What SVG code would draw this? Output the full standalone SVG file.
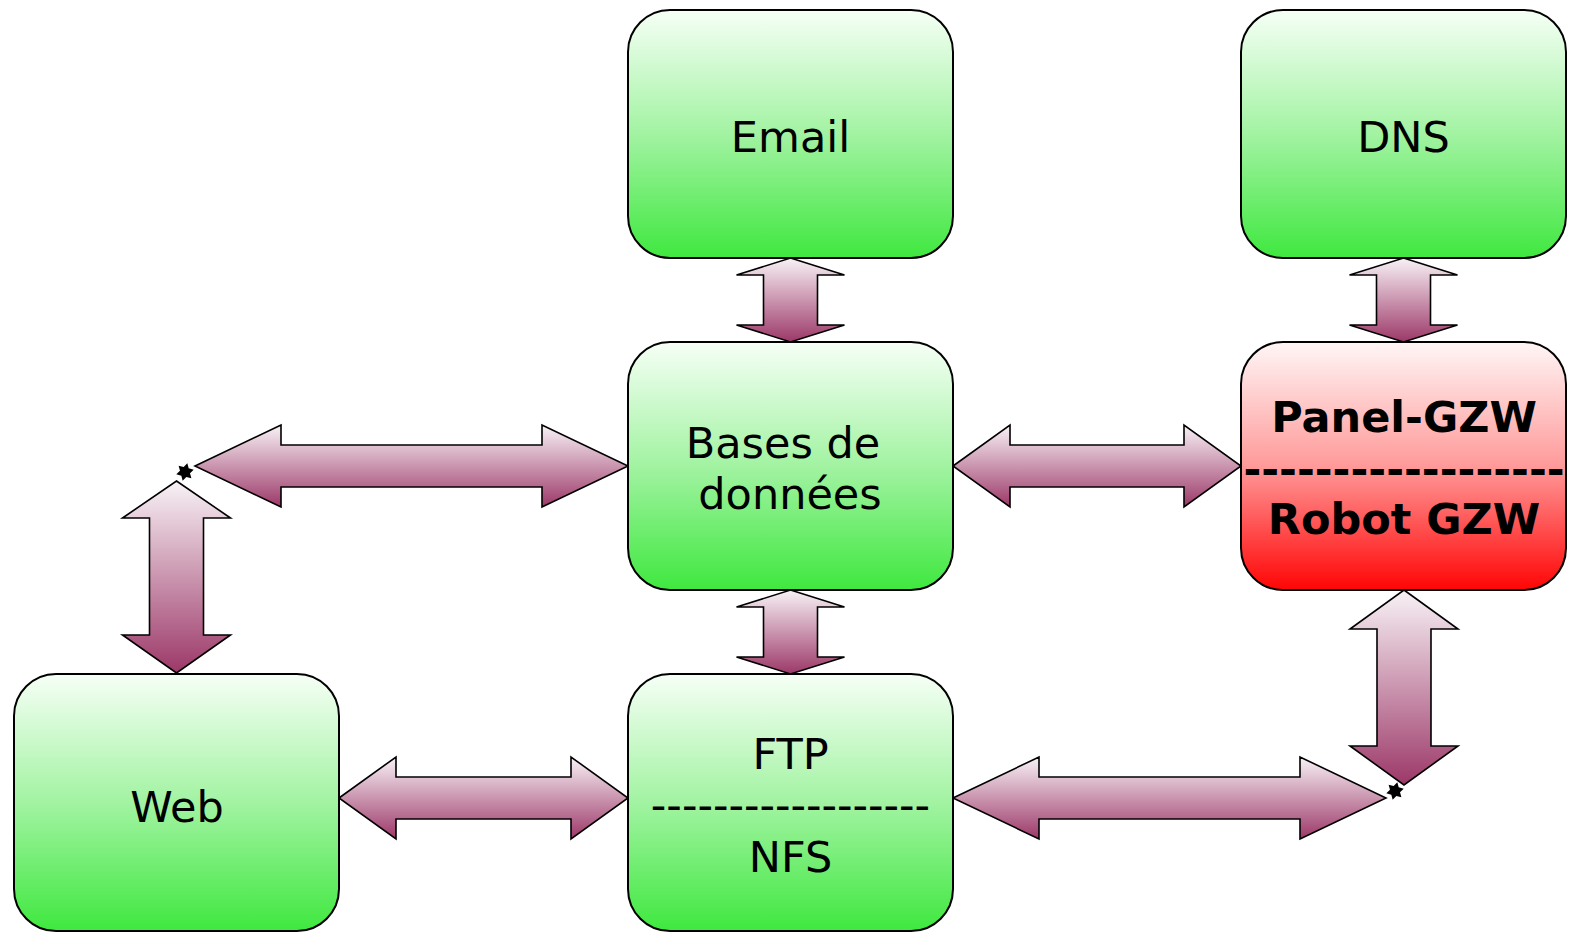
<svg xmlns="http://www.w3.org/2000/svg" xmlns:xlink="http://www.w3.org/1999/xlink" width="1575" height="933" viewBox="0 0 1575 933">
<style>
.box{stroke:#000;stroke-width:2}
.g{fill:url(#gGreen)}
.r{fill:url(#gRed)}
.arr{fill:url(#gArrow);stroke:#000;stroke-width:1.6;stroke-linejoin:miter}
.t{font-family:"DejaVu Sans","Liberation Sans",sans-serif;font-size:43px;fill:#000;text-anchor:middle}
.b{font-weight:bold}
</style>
<defs>
<linearGradient id="gGreen" x1="0" y1="0" x2="0" y2="1">
<stop offset="0" stop-color="#f6fff6"/>
<stop offset="0.5" stop-color="#a2f3a2"/>
<stop offset="1" stop-color="#3fe83f"/>
</linearGradient>
<linearGradient id="gRed" x1="0" y1="0" x2="0" y2="1">
<stop offset="0" stop-color="#fff6f6"/>
<stop offset="0.5" stop-color="#ff9a9a"/>
<stop offset="1" stop-color="#ff0505"/>
</linearGradient>
<linearGradient id="gArrow" x1="0" y1="0" x2="0" y2="1">
<stop offset="0" stop-color="#f8f2f6"/>
<stop offset="1" stop-color="#9c3868"/>
</linearGradient>
<polygon id="star" points="0,-9 2.6,-4.5 7.8,-4.5 5.2,0 7.8,4.5 2.6,4.5 0,9 -2.6,4.5 -7.8,4.5 -5.2,0 -7.8,-4.5 -2.6,-4.5" fill="#000" transform="rotate(15)"/>
</defs>

<g id="connectors">
<polygon class="arr" points="790.5,258 844.5,275 817.5,275 817.5,325 844.5,325 790.5,342 736.5,325 763.5,325 763.5,275 736.5,275"/>
<polygon class="arr" points="790.5,590 844.5,607 817.5,607 817.5,657 844.5,657 790.5,674 736.5,657 763.5,657 763.5,607 736.5,607"/>
<polygon class="arr" points="1403.5,258 1457.5,275 1430.5,275 1430.5,325 1457.5,325 1403.5,342 1349.5,325 1376.5,325 1376.5,275 1349.5,275"/>
<polygon class="arr" points="1404,590 1458,629 1431,629 1431,746 1458,746 1404,785 1350,746 1377,746 1377,629 1350,629"/>
<polygon class="arr" points="176.5,481 230.5,518 203.5,518 203.5,635 230.5,635 176.5,673 122.5,635 149.5,635 149.5,518 122.5,518"/>
<polygon class="arr" points="953,466 1010,425 1010,445 1184,445 1184,425 1241,466 1184,507 1184,487 1010,487 1010,507"/>
<polygon class="arr" points="195,466 281,425 281,445 542,445 542,425 628,466 542,507 542,487 281,487 281,507"/>
<polygon class="arr" points="339,798 396,757 396,777 571,777 571,757 628,798 571,839 571,819 396,819 396,839"/>
<polygon class="arr" points="953,798 1039,757 1039,777 1300,777 1300,757 1386,798 1300,839 1300,819 1039,819 1039,839"/>
<use xlink:href="#star" href="#star" x="185" y="472"/>
<use xlink:href="#star" href="#star" x="1395" y="791"/>
</g>

<g id="email">
<rect class="box g" x="628" y="10" width="325" height="248" rx="42" ry="42"/>
<text class="t" x="790.5" y="152">Email</text>
</g>

<g id="dns">
<rect class="box g" x="1241" y="10" width="325" height="248" rx="42" ry="42"/>
<text class="t" x="1403.5" y="152">DNS</text>
</g>

<g id="bases">
<rect class="box g" x="628" y="342" width="325" height="248" rx="42" ry="42"/>
<text class="t" x="783" y="458">Bases de</text>
<text class="t" x="790" y="509">données</text>
</g>

<g id="panel">
<rect class="box r" x="1241" y="342" width="325" height="248" rx="42" ry="42"/>
<text class="t b" x="1404" y="432">Panel-GZW</text>
<text class="t b" x="1404" y="484">------------------</text>
<text class="t b" x="1404" y="534">Robot GZW</text>
</g>

<g id="web">
<rect class="box g" x="14" y="674" width="325" height="257" rx="42" ry="42"/>
<text class="t" x="177" y="822">Web</text>
</g>

<g id="ftp">
<rect class="box g" x="628" y="674" width="325" height="257" rx="42" ry="42"/>
<text class="t" x="790.5" y="769">FTP</text>
<text class="t" x="790.5" y="820">------------------</text>
<text class="t" x="790.5" y="872">NFS</text>
</g>
</svg>
